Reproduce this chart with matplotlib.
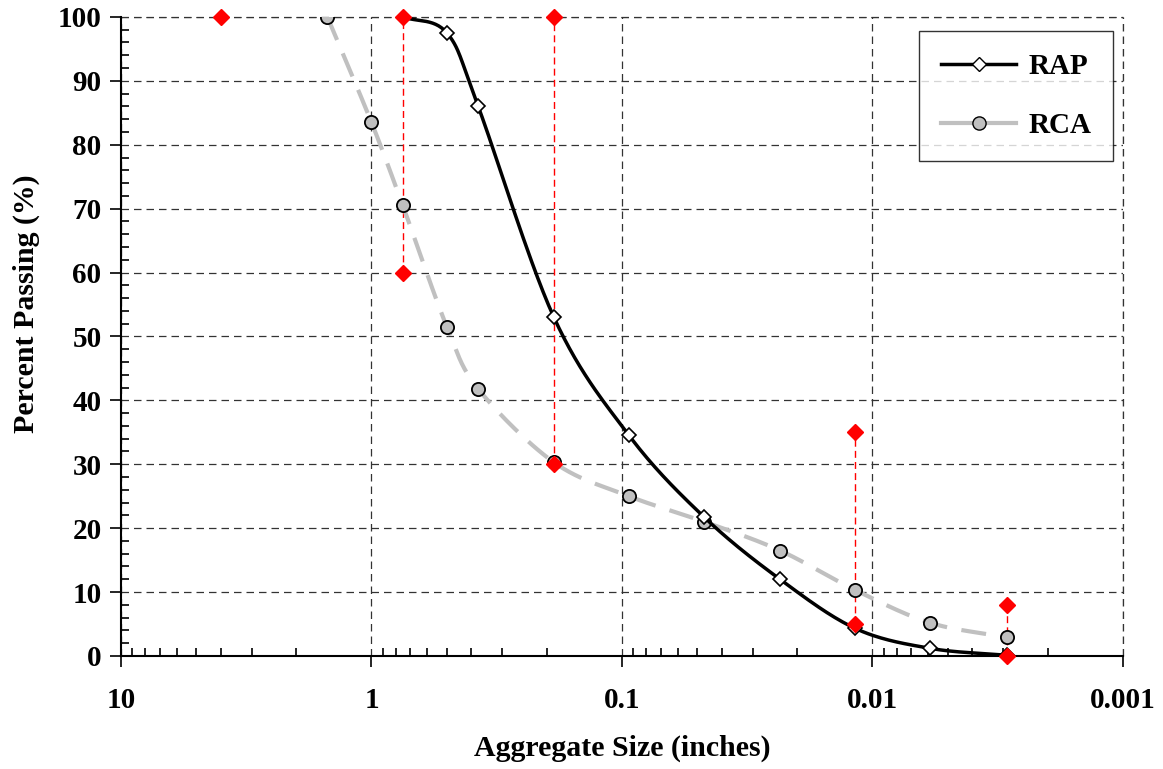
import numpy as np
import matplotlib.pyplot as plt
from matplotlib.ticker import LogLocator, NullFormatter, MultipleLocator

plt.rcParams['font.family'] = ['Liberation Serif', 'DejaVu Serif']
plt.rcParams['font.weight'] = 'bold'

# Sieve sizes (inches)
rap_size = [0.75, 0.5, 0.375, 0.187, 0.0937, 0.0469, 0.0234, 0.0117, 0.0059, 0.0029]
rap_pass = [100, 97.5, 86, 53, 34.5, 21.7, 12, 4.3, 1.2, 0.1]

rca_size = [1.5, 1.0, 0.75, 0.5, 0.375, 0.187, 0.0937, 0.0469, 0.0234, 0.0117, 0.0059, 0.0029]
rca_pass = [100, 83.5, 70.5, 51.5, 41.8, 30.3, 25, 21, 16.5, 10.3, 5.2, 2.9]

# specification limits (red)
spec_size = [0.75, 0.187, 0.0117, 0.0029]
spec_upper = [100, 100, 35, 8]
spec_lower = [60, 30, 5, 0]
spec_top_size = 4.0
spec_top_pass = 100


def smooth(xs, ys, n=30):
    # catmull-rom through the points in log-x space (like excel smoothed line)
    lx = np.log10(xs)
    y = np.asarray(ys, float)
    px = np.concatenate([[2 * lx[0] - lx[1]], lx, [2 * lx[-1] - lx[-2]]])
    py = np.concatenate([[2 * y[0] - y[1]], y, [2 * y[-1] - y[-2]]])
    outx, outy = [], []
    t = np.linspace(0, 1, n)
    for i in range(1, len(px) - 2):
        for arr, out in ((px, outx), (py, outy)):
            p0, p1, p2, p3 = arr[i - 1], arr[i], arr[i + 1], arr[i + 2]
            seg = 0.5 * ((2 * p1) + (-p0 + p2) * t + (2 * p0 - 5 * p1 + 4 * p2 - p3) * t ** 2
                         + (-p0 + 3 * p1 - 3 * p2 + p3) * t ** 3)
            out.extend(seg)
    return 10 ** np.array(outx), np.array(outy)


fig = plt.figure(figsize=(11.63, 7.69), dpi=100)
ax = fig.add_axes([0.104, 0.147, 0.8616, 0.831])

ax.set_xscale('log')
ax.set_xlim(10, 0.001)
ax.set_ylim(0, 100)

grid_style = dict(color='#333333', linestyle=(0, (6, 4)), linewidth=0.9)
ax.grid(True, which='major', **grid_style)
ax.set_axisbelow(True)
# edge grid lines (would be half clipped otherwise)
ax.axvline(0.001, clip_on=False, zorder=0.5, **grid_style)
ax.axhline(100, clip_on=False, zorder=0.5, **grid_style)

# spec lines
for s, u, l in zip(spec_size, spec_upper, spec_lower):
    ax.plot([s, s], [l, u], color='red', linestyle=(0, (5, 3)), linewidth=1.0, zorder=3)

sx, sy = smooth(rca_size, rca_pass)
ax.plot(sx, sy, color='#c0c0c0', linestyle=(0, (6, 3.5)), linewidth=3, zorder=4)
ax.plot(rca_size, rca_pass, linestyle='none', marker='o', markersize=9.5,
        markerfacecolor='#c0c0c0', markeredgecolor='black', markeredgewidth=1.3, zorder=5)

sx, sy = smooth(rap_size, rap_pass)
ax.plot(sx, sy, color='black', linewidth=2.5, zorder=6)
ax.plot(rap_size, rap_pass, linestyle='none', marker='D', markersize=7,
        markerfacecolor='white', markeredgecolor='black', markeredgewidth=1.2, zorder=7)

ax.plot(spec_size + spec_size + [spec_top_size], spec_upper + spec_lower + [spec_top_pass],
        linestyle='none', marker='D', markersize=8.5, color='red', zorder=8, clip_on=False)

# legend proxies
h1, = ax.plot([], [], color='black', linewidth=2.5, marker='D', markersize=7,
              markerfacecolor='white', markeredgecolor='black')
h2, = ax.plot([], [], color='#c0c0c0', linewidth=3, marker='o', markersize=9.5,
              markerfacecolor='#c0c0c0', markeredgecolor='black')
leg = ax.legend([h1, h2], ['RAP', 'RCA'], loc='upper right', bbox_to_anchor=(0.99, 0.978),
                borderaxespad=0, fontsize=21, frameon=True, fancybox=False, edgecolor='black',
                labelspacing=1.1, handlelength=2.6, handletextpad=0.4, borderpad=0.75)
leg.get_frame().set_linewidth(1.0)
leg.set_zorder(10)

ax.set_xticks([10, 1, 0.1, 0.01, 0.001])
ax.set_xticklabels(['10', '1', '0.1', '0.01', '0.001'])
ax.xaxis.set_minor_locator(LogLocator(base=10, subs=np.arange(2, 10)))
ax.xaxis.set_minor_formatter(NullFormatter())
ax.yaxis.set_major_locator(MultipleLocator(10))
ax.yaxis.set_minor_locator(MultipleLocator(2))

ax.tick_params(axis='both', which='major', direction='out', length=8, width=1.2,
               labelsize=21, pad=6)
ax.tick_params(axis='x', which='major', pad=14)
ax.tick_params(axis='both', which='minor', direction='in', length=6, width=1.2)
ax.tick_params(top=False, right=False, which='both')

ax.spines['top'].set_visible(False)
ax.spines['right'].set_visible(False)
ax.spines['left'].set_linewidth(1.5)
ax.spines['bottom'].set_linewidth(1.5)

ax.set_xlabel('Aggregate Size (inches)', fontsize=21.5, fontweight='bold', labelpad=15)
ax.set_ylabel('Percent Passing (%)', fontsize=21.5, fontweight='bold')
ax.yaxis.set_label_coords(-0.081, 0.551)

fig.savefig('out.png', dpi=100)
